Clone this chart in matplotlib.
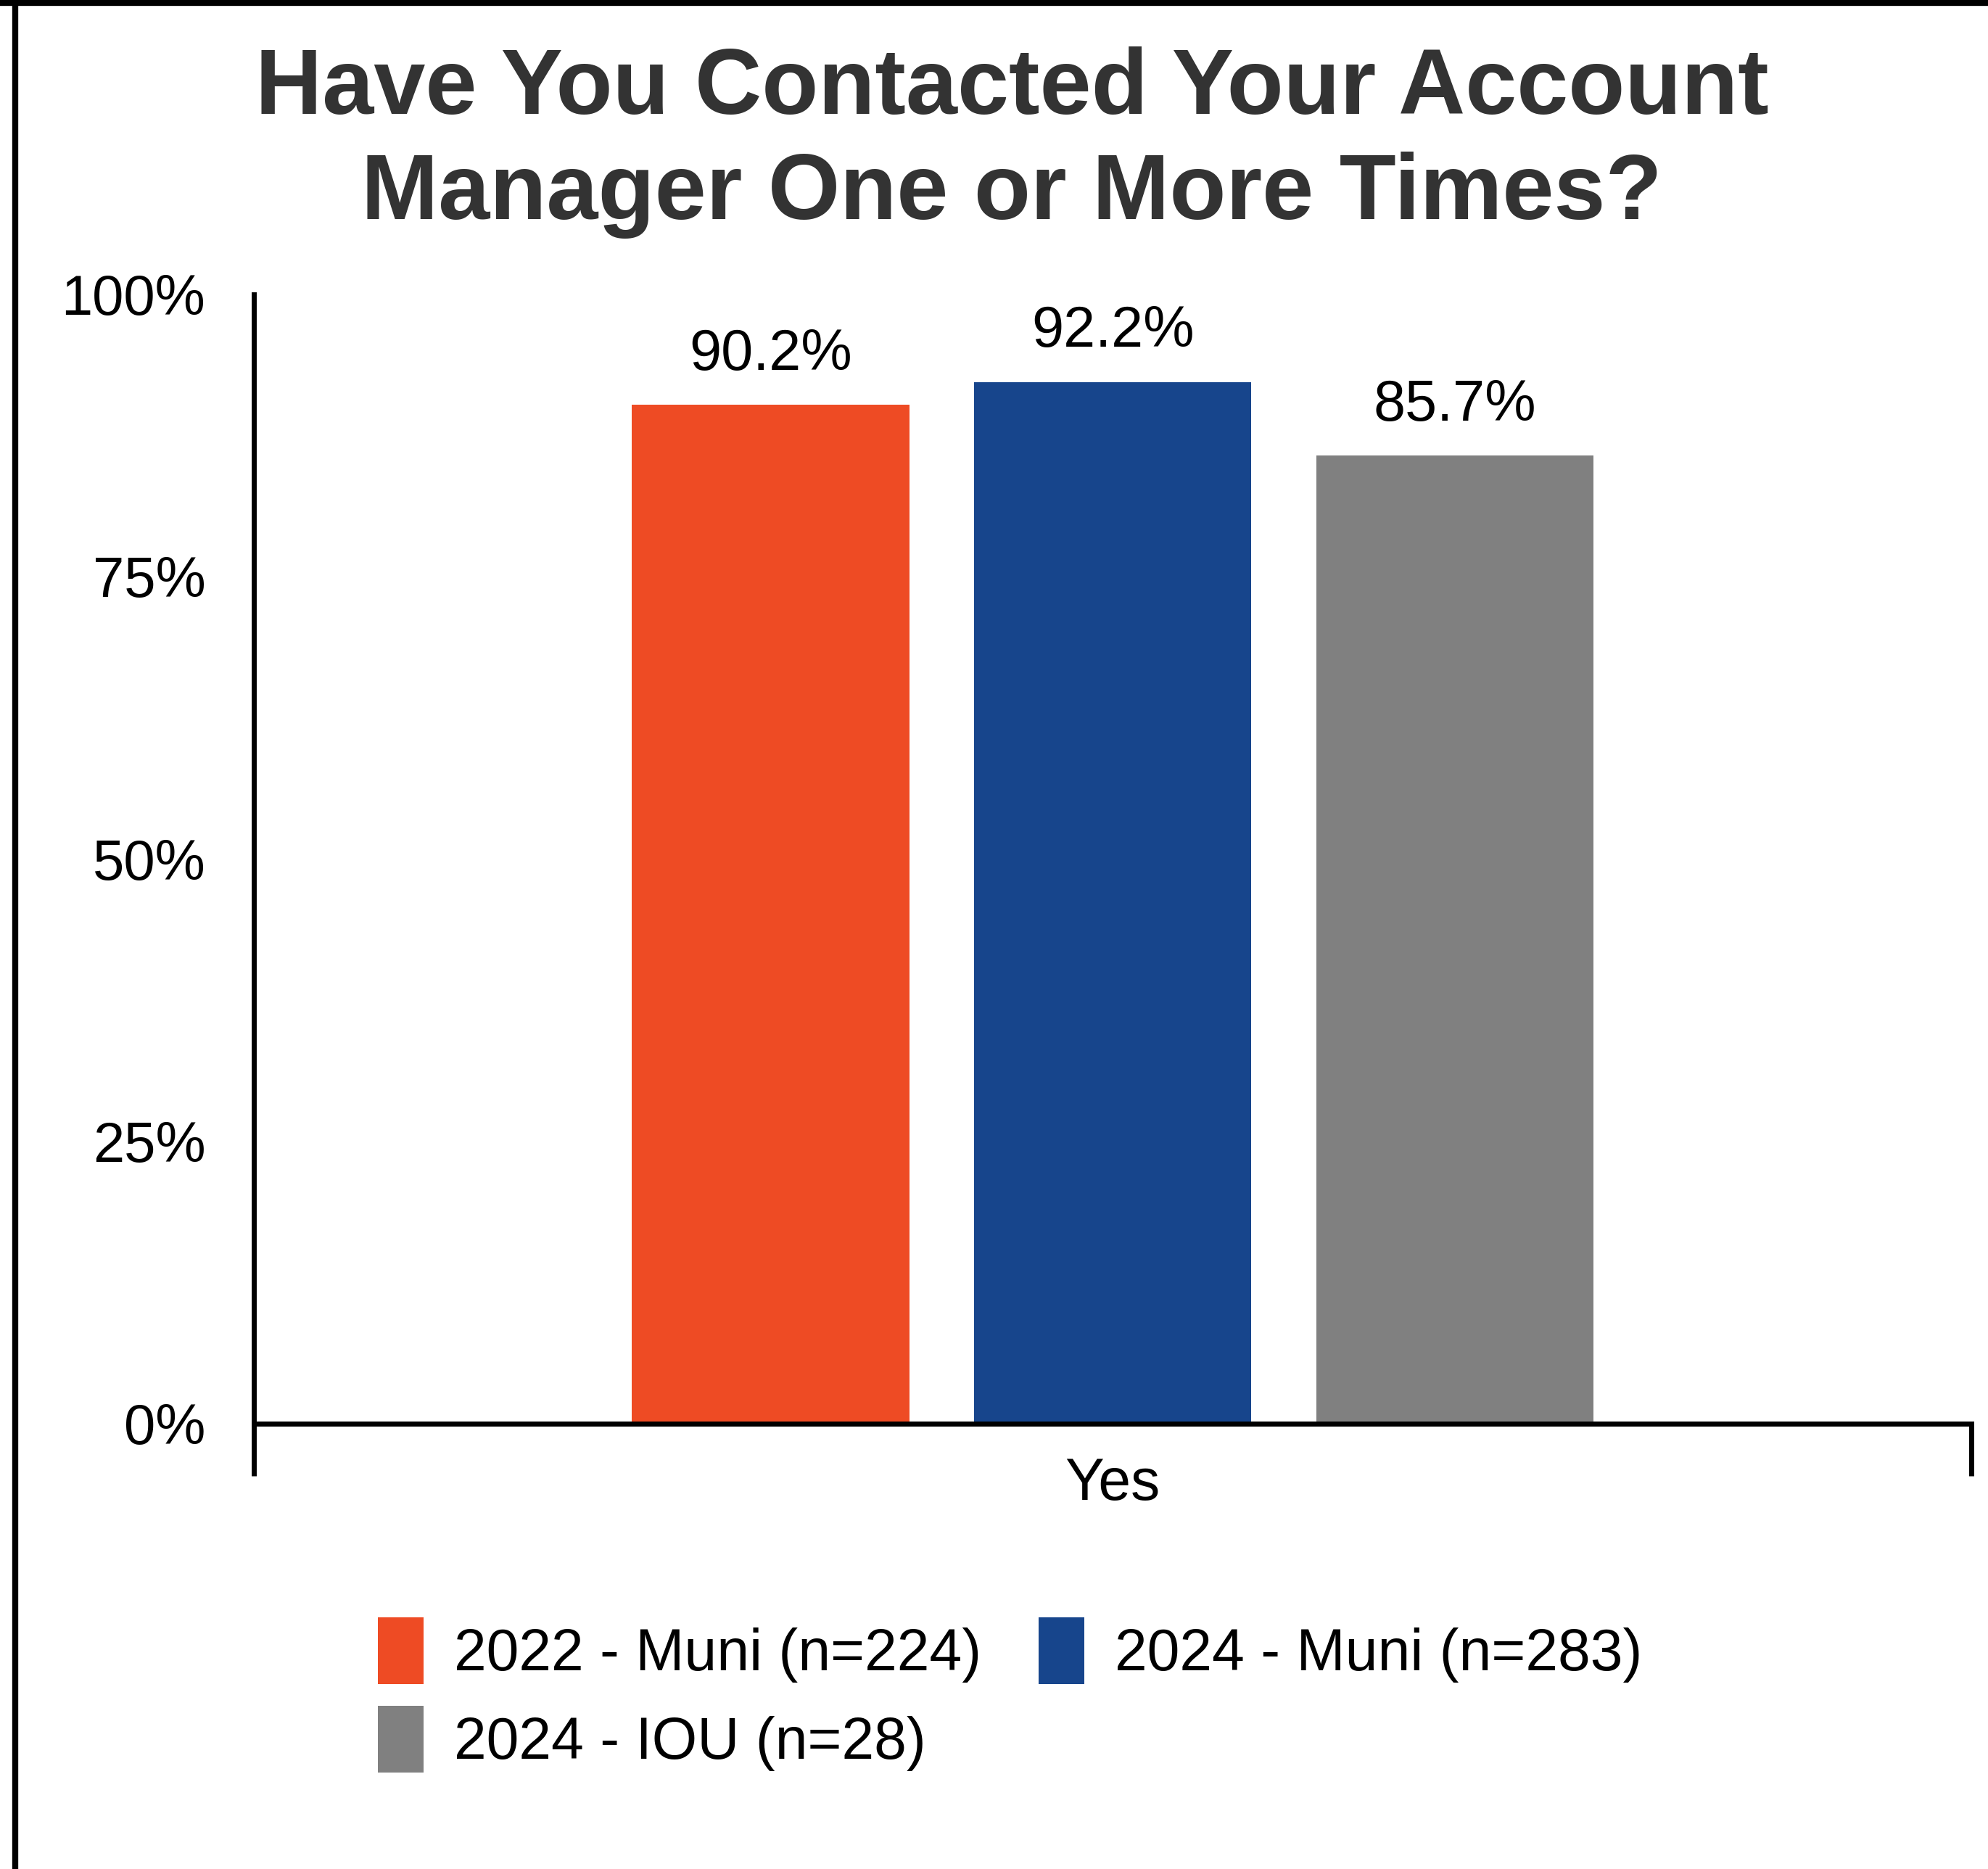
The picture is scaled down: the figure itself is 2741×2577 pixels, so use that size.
import matplotlib.pyplot as plt
from matplotlib.lines import Line2D

plt.rcParams["font.family"] = ["Liberation Sans", "DejaVu Sans"]

category = ["Yes"]
series = ["2022 - Muni (n=224)", "2024 - Muni (n=283)", "2024 - IOU (n=28)"]
values = [90.2, 92.2, 85.7]
colors = ["#EE4B24", "#17458C", "#808080"]
yticks = [0, 25, 50, 75, 100]

fig = plt.figure(figsize=(27.41, 25.77), dpi=100)
ax = fig.add_axes([0.1277, 0.2383, 0.8640, 0.6043])

# three grouped bars on the single category
width = 0.1616
step = 0.1993
for i, (name, val, col) in enumerate(zip(series, values, colors)):
    x = (i - 1) * step
    ax.bar(x, val, width=width, color=col, label=name)
    ax.annotate(f"{val:.1f}%", (x, val), xytext=(0, 35), textcoords="offset points",
                ha="center", va="baseline", fontsize=57)

ax.set_xlim(-0.5, 0.5)
ax.set_ylim(0, 100)
for s in ["top", "right"]:
    ax.spines[s].set_visible(False)
for s in ["left", "bottom"]:
    ax.spines[s].set_linewidth(5)

# category boundary ticks hang below the axis, label sits in the middle
ax.set_xticks([-0.5, 0.5])
ax.set_xticklabels(["", ""])
ax.tick_params(axis="x", which="major", direction="out", length=52, width=5)
ax.set_xticks([0], minor=True)
ax.set_xticklabels(category, minor=True)
ax.tick_params(axis="x", which="minor", length=0, pad=33, labelsize=58)

ax.set_yticks(yticks)
ax.set_yticklabels([f"{t}%" for t in yticks])
ax.tick_params(axis="y", length=0, pad=48, labelsize=56)

fig.text(0.509, 0.975, "Have You Contacted Your Account\nManager One or More Times?",
         ha="center", va="top", fontsize=92, fontweight="bold", color="#333333",
         linespacing=1.26)

h, l = ax.get_legend_handles_labels()
order = [0, 2, 1]
fig.legend([h[k] for k in order], [l[k] for k in order], ncol=2,
           loc="upper left", bbox_to_anchor=(0.190, 0.1346), frameon=False,
           fontsize=58, handlelength=0.78, handleheight=1.37, handletextpad=0.52,
           columnspacing=0.99, labelspacing=0.38, borderpad=0, borderaxespad=0)

# frame edges along the left and top
fig.add_artist(Line2D([21 / 2741, 21 / 2741], [0, 1], color="black", lw=6, transform=fig.transFigure))
fig.add_artist(Line2D([0, 1], [1 - 4 / 2577, 1 - 4 / 2577], color="black", lw=6, transform=fig.transFigure))

fig.savefig("out.png", dpi=100, facecolor="white")
